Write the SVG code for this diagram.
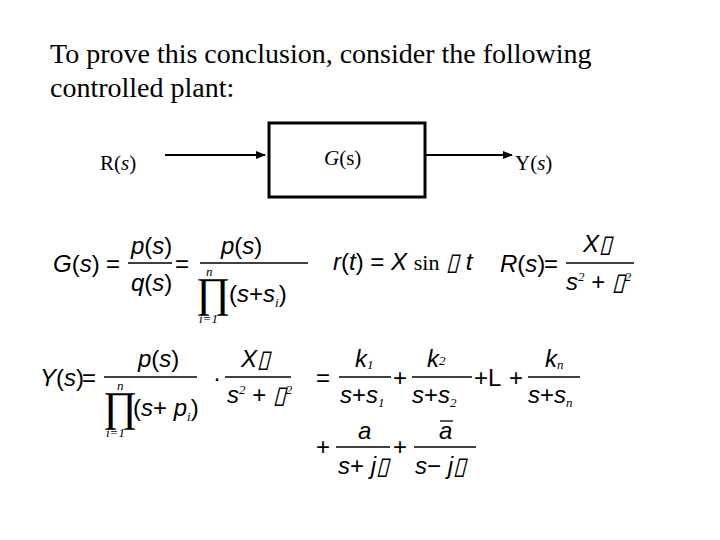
<svg xmlns="http://www.w3.org/2000/svg" width="720" height="540" viewBox="0 0 720 540">
<style>
.t{font-family:"Liberation Serif",serif;font-size:28px;fill:#000}
.l{font-family:"Liberation Serif",serif;font-size:21px;fill:#000}
.m{font-family:"Liberation Sans",sans-serif;font-size:24px;font-style:italic;fill:#000}
.u{font-family:"Liberation Sans",sans-serif;font-size:24px;font-style:normal;fill:#000}
.s{font-family:"Liberation Serif",serif;font-size:13px;font-style:italic;fill:#000}
.sr{font-family:"Liberation Serif",serif;font-size:22px;font-style:normal;fill:#000}
.p{font-family:"Liberation Serif",serif;font-size:42px;fill:#000}
.fl{stroke:#000;stroke-width:1.3}
</style>
<defs><marker id="a" markerWidth="10" markerHeight="8" refX="9" refY="4" orient="auto" markerUnits="userSpaceOnUse"><path d="M0,0L10,4L0,8z" fill="#000"/></marker></defs>
<rect width="720" height="540" fill="#fff"/>
<text class="t" x="50" y="63">To prove this conclusion, consider the following</text>
<text class="t" x="50" y="97">controlled plant:</text>
<g id="plant"><rect x="269" y="123" width="156" height="74" fill="#fff" stroke="#000" stroke-width="3"/><text class="l" x="324" y="165"><tspan font-style="italic">G</tspan>(s)</text></g>
<g id="input"><text class="l" x="100" y="170">R(<tspan font-style="italic">s</tspan>)</text></g>
<g id="output"><text class="l" x="515" y="170">Y(<tspan font-style="italic">s</tspan>)</text></g>
<g id="connectors" stroke="#000" stroke-width="2"><line x1="165" y1="155" x2="265" y2="155" marker-end="url(#a)"/><line x1="425" y1="155" x2="512" y2="155" marker-end="url(#a)"/></g>
<g id="eq1">
<text class="m" x="53" y="272">G<tspan class="u">(</tspan>s<tspan class="u">)</tspan></text>
<text class="u" x="106" y="272">=</text>
<text class="m" x="131" y="254">p<tspan class="u">(</tspan>s<tspan class="u">)</tspan></text>
<line class="fl" x1="128" y1="263" x2="172" y2="263"/>
<text class="m" x="131" y="291">q<tspan class="u">(</tspan>s<tspan class="u">)</tspan></text>
<text class="u" x="175" y="272">=</text>
<text class="m" x="221" y="254">p<tspan class="u">(</tspan>s<tspan class="u">)</tspan></text>
<line class="fl" x1="200" y1="263" x2="308" y2="263"/>
<text class="s" x="206" y="276">n</text>
<text class="p" x="196" y="307">∏</text>
<text class="s" x="199" y="323">i=1</text>
<text class="m" x="229" y="302"><tspan class="u">(</tspan>s<tspan class="u">+</tspan>s<tspan class="s" dy="5">i</tspan><tspan class="u" dy="-5">)</tspan></text>
<text class="m" x="333" y="270">r<tspan class="u">(</tspan>t<tspan class="u">) = </tspan>X <tspan class="sr">sin</tspan> ▯ t</text>
<text class="m" x="500" y="272">R<tspan class="u">(</tspan>s<tspan class="u">)</tspan></text>
<text class="u" x="544" y="272">=</text>
<text class="m" x="583" y="252">X▯</text>
<line class="fl" x1="566" y1="263" x2="634" y2="263"/>
<text class="m" x="566" y="290">s<tspan class="s" dy="-9">2</tspan><tspan class="u" dy="9"> + </tspan>▯<tspan class="s" dy="-9">2</tspan></text>
</g>
<g id="eq2">
<text class="m" x="40" y="386">Y<tspan class="u">(</tspan>s<tspan class="u">)</tspan></text>
<text class="u" x="82" y="386">=</text>
<text class="m" x="138" y="367">p<tspan class="u">(</tspan>s<tspan class="u">)</tspan></text>
<line class="fl" x1="104" y1="377" x2="197" y2="377"/>
<text class="s" x="117" y="390">n</text>
<text class="p" x="103" y="421">∏</text>
<text class="s" x="106" y="437">i=1</text>
<text class="m" x="133" y="416"><tspan class="u">(</tspan>s<tspan class="u">+ </tspan>p<tspan class="s" dy="5">i</tspan><tspan class="u" dy="-5">)</tspan></text>
<text class="u" x="213" y="386">·</text>
<text class="m" x="241" y="367">X▯</text>
<line class="fl" x1="225" y1="377" x2="291" y2="377"/>
<text class="m" x="227" y="403">s<tspan class="s" dy="-9">2</tspan><tspan class="u" dy="9"> + </tspan>▯<tspan class="s" dy="-9">2</tspan></text>
<text class="u" x="316" y="386">=</text>
<text class="m" x="355" y="367">k<tspan class="s" dy="2">1</tspan></text>
<line class="fl" x1="339" y1="377" x2="391" y2="377"/>
<text class="m" x="340" y="403">s<tspan class="u">+</tspan>s<tspan class="s" dy="4">1</tspan></text>
<text class="u" x="393" y="386">+</text>
<text class="m" x="427" y="367">k<tspan class="s" dy="-2">2</tspan></text>
<line class="fl" x1="412" y1="377" x2="472" y2="377"/>
<text class="m" x="412" y="403">s<tspan class="u">+</tspan>s<tspan class="s" dy="4">2</tspan></text>
<text class="u" x="474" y="386">+L</text>
<text class="u" x="509" y="386">+</text>
<text class="m" x="545" y="367">k<tspan class="s" dy="2">n</tspan></text>
<line class="fl" x1="528" y1="377" x2="580" y2="377"/>
<text class="m" x="528" y="403">s<tspan class="u">+</tspan>s<tspan class="s" dy="4">n</tspan></text>
<text class="u" x="316" y="455">+</text>
<text class="m" x="358" y="439">a</text>
<line class="fl" x1="336" y1="447" x2="390" y2="447"/>
<text class="m" x="338" y="474">s<tspan class="u">+ </tspan>j▯</text>
<text class="u" x="393" y="455">+</text>
<text class="m" x="439" y="439">a</text>
<line class="fl" x1="440" y1="421" x2="453" y2="421"/>
<line class="fl" x1="414" y1="447" x2="476" y2="447"/>
<text class="m" x="415" y="474">s<tspan class="u">− </tspan>j▯</text>
</g>
</svg>
